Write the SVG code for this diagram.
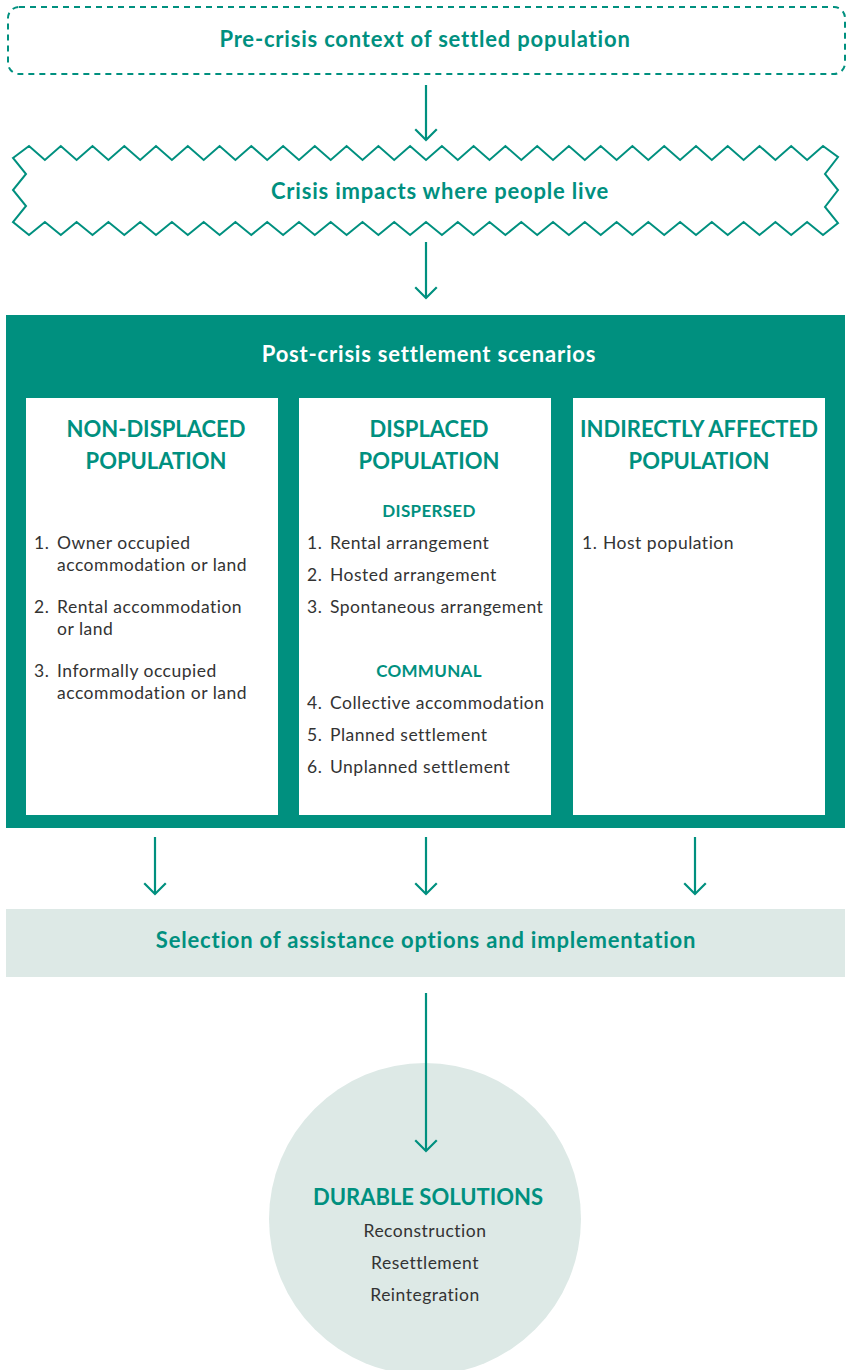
<svg xmlns="http://www.w3.org/2000/svg" width="846" height="1370" viewBox="0 0 846 1370">
<defs>
<marker id="chev" markerUnits="userSpaceOnUse" markerWidth="24" markerHeight="24" viewBox="-12 -12 24 24" refX="0" refY="0" orient="auto" overflow="visible">
<path d="M-10,-10 L0,0 L-10,10" fill="none" stroke="#00907F" stroke-width="2.2" stroke-linecap="square"/>
</marker>
</defs>
<style>
text{font-family:"Lato","Liberation Sans",sans-serif}
.teal{fill:#00907F}
.title{font-size:22px;font-weight:700;text-anchor:middle;letter-spacing:0.8px}
.head{font-size:22px;font-weight:700;text-anchor:middle;fill:#00907F}
.sub{font-size:17px;font-weight:700;text-anchor:middle;fill:#00907F;letter-spacing:0.3px}
.item{font-size:17.5px;fill:#333333;letter-spacing:0.5px}
.conn{stroke:#00907F;stroke-width:2.2;fill:none;marker-end:url(#chev)}
</style>
<rect width="846" height="1370" fill="#ffffff"/>

<g id="pre-crisis">
<rect x="8" y="7" width="837" height="67" rx="11" fill="none" stroke="#00907F" stroke-width="2" stroke-dasharray="6,5"/>
<text x="425" y="47" class="title teal">Pre-crisis context of settled population</text>
</g>

<g id="crisis">
<path d="M13,158 L29,146 L44.9,160 L60.8,146 L76.6,160 L92.5,146 L108.4,160 L124.3,146 L140.2,160 L156,146 L171.9,160 L187.8,146 L203.7,160 L219.6,146 L235.4,160 L251.3,146 L267.2,160 L283.1,146 L299,160 L314.8,146 L330.7,160 L346.6,146 L362.5,160 L378.4,146 L394.2,160 L410.1,146 L426,160 L441.9,146 L457.8,160 L473.6,146 L489.5,160 L505.4,146 L521.3,160 L537.2,146 L553,160 L568.9,146 L584.8,160 L600.7,146 L616.6,160 L632.4,146 L648.3,160 L664.2,146 L680.1,160 L696,146 L711.8,160 L727.7,146 L743.6,160 L759.5,146 L775.4,160 L791.2,146 L807.1,160 L823,146 L838,157 L825,174 L838,190 L825,207 L838,223 L823,235 L807.1,222 L791.2,235 L775.4,222 L759.5,235 L743.6,222 L727.7,235 L711.8,222 L696,235 L680.1,222 L664.2,235 L648.3,222 L632.4,235 L616.6,222 L600.7,235 L584.8,222 L568.9,235 L553,222 L537.2,235 L521.3,222 L505.4,235 L489.5,222 L473.6,235 L457.8,222 L441.9,235 L426,222 L410.1,235 L394.2,222 L378.4,235 L362.5,222 L346.6,235 L330.7,222 L314.8,235 L299,222 L283.1,235 L267.2,222 L251.3,235 L235.4,222 L219.6,235 L203.7,222 L187.8,235 L171.9,222 L156,235 L140.2,222 L124.3,235 L108.4,222 L92.5,235 L76.6,222 L60.8,235 L44.9,222 L29,235 L13,222 L26,206 L13,190 L26,174 Z" fill="#ffffff" stroke="#00907F" stroke-width="2" stroke-linejoin="miter"/>
<text x="440" y="199" class="title teal">Crisis impacts where people live</text>
</g>

<g id="scenarios">
<rect x="6" y="315" width="839" height="513" fill="#00907F"/>
<text x="429" y="362" class="title" fill="#ffffff">Post-crisis settlement scenarios</text>
</g>

<g id="non-displaced">
<rect x="26" y="398" width="252" height="417" fill="#ffffff"/>
<text x="156" y="437" class="head">NON-DISPLACED</text>
<text x="156" y="469" class="head">POPULATION</text>
<text class="item">
<tspan x="34" y="549">1.</tspan><tspan x="57" y="549">Owner occupied</tspan>
<tspan x="57" y="571">accommodation or land</tspan>
<tspan x="34" y="613">2.</tspan><tspan x="57" y="613">Rental accommodation</tspan>
<tspan x="57" y="635">or land</tspan>
<tspan x="34" y="677">3.</tspan><tspan x="57" y="677">Informally occupied</tspan>
<tspan x="57" y="699">accommodation or land</tspan>
</text>
</g>

<g id="displaced">
<rect x="299" y="398" width="252" height="417" fill="#ffffff"/>
<text x="429" y="437" class="head">DISPLACED</text>
<text x="429" y="469" class="head">POPULATION</text>
<text x="429" y="517" class="sub">DISPERSED</text>
<text class="item">
<tspan x="307" y="549">1.</tspan><tspan x="330" y="549">Rental arrangement</tspan>
<tspan x="307" y="581">2.</tspan><tspan x="330" y="581">Hosted arrangement</tspan>
<tspan x="307" y="613">3.</tspan><tspan x="330" y="613">Spontaneous arrangement</tspan>
</text>
<text x="429" y="677" class="sub">COMMUNAL</text>
<text class="item">
<tspan x="307" y="709">4.</tspan><tspan x="330" y="709">Collective accommodation</tspan>
<tspan x="307" y="741">5.</tspan><tspan x="330" y="741">Planned settlement</tspan>
<tspan x="307" y="773">6.</tspan><tspan x="330" y="773">Unplanned settlement</tspan>
</text>
</g>

<g id="indirectly-affected">
<rect x="573" y="398" width="252" height="417" fill="#ffffff"/>
<text x="699" y="437" class="head">INDIRECTLY AFFECTED</text>
<text x="699" y="469" class="head">POPULATION</text>
<text class="item"><tspan x="582" y="549">1.</tspan><tspan x="603" y="549">Host population</tspan></text>
</g>

<g id="selection">
<rect x="6" y="909" width="839" height="68" fill="#DDE9E6"/>
<text x="426" y="948" class="title teal">Selection of assistance options and implementation</text>
</g>

<g id="durable-solutions">
<circle cx="425" cy="1219" r="156" fill="#DDE9E6"/>
<text x="428" y="1205" class="head">DURABLE SOLUTIONS</text>
<text x="425" y="1237" class="item" text-anchor="middle">Reconstruction</text>
<text x="425" y="1269" class="item" text-anchor="middle">Resettlement</text>
<text x="425" y="1301" class="item" text-anchor="middle">Reintegration</text>
</g>

<g id="connectors">
<line x1="426" y1="85" x2="426" y2="140" class="conn"/>
<line x1="426" y1="242" x2="426" y2="298" class="conn"/>
<line x1="155" y1="837" x2="155" y2="894" class="conn"/>
<line x1="426" y1="837" x2="426" y2="894" class="conn"/>
<line x1="695" y1="837" x2="695" y2="894" class="conn"/>
<line x1="426" y1="993" x2="426" y2="1151" class="conn"/>
</g>
</svg>
